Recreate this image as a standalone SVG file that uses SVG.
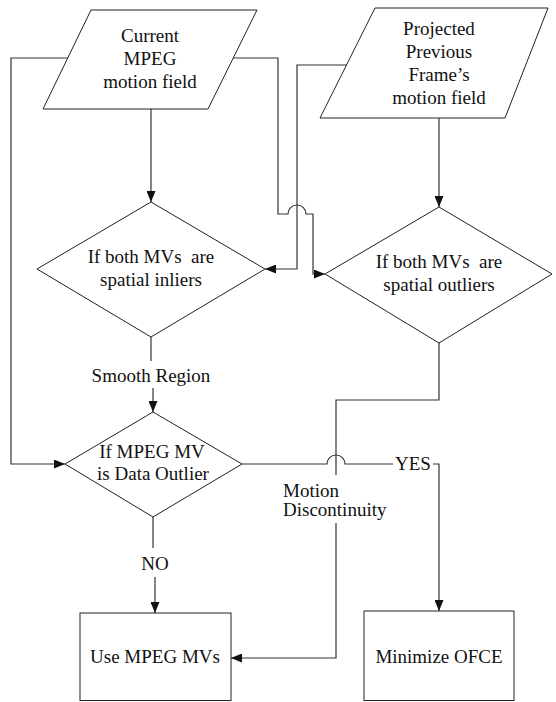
<svg xmlns="http://www.w3.org/2000/svg" width="556" height="702" viewBox="0 0 556 702">
<style>
.shape{fill:#fff;stroke:#222;stroke-width:1}
.conn{fill:none;stroke:#333;stroke-width:1.2}
text{font-family:"Liberation Serif","Times New Roman",serif;font-size:19px;fill:#111}
.c{text-anchor:middle}
</style>
<defs>
<marker id="arr" markerUnits="userSpaceOnUse" markerWidth="11" markerHeight="9" refX="11" refY="4.5" orient="auto">
<path d="M0,0 L11,4.5 L0,9 z" fill="#111"/>
</marker>
</defs>
<rect width="556" height="702" fill="#fff"/>
<g id="connectors">
<path class="conn" d="M68,58 H11 V464 H65" marker-end="url(#arr)"/>
<path class="conn" d="M233,58 H278 V214 H288 A9,9 0 0 1 306,214 H313 V274 H325" marker-end="url(#arr)"/>
<path class="conn" d="M347,65 H297 V269 H265" marker-end="url(#arr)"/>
<path class="conn" d="M151,109 V202" marker-end="url(#arr)"/>
<path class="conn" d="M439,118 V207" marker-end="url(#arr)"/>
<path class="conn" d="M151,337 V361"/>
<path class="conn" d="M153,388 V412" marker-end="url(#arr)"/>
<path class="conn" d="M153,517 V548"/>
<path class="conn" d="M155,577 V613" marker-end="url(#arr)"/>
<path class="conn" d="M242,464 H327 A9,9 0 0 1 345,464 H393"/>
<path class="conn" d="M433,464 H439 V611" marker-end="url(#arr)"/>
<path class="conn" d="M439,343 V400 H336 V475"/>
<path class="conn" d="M336,523 V658 H231" marker-end="url(#arr)"/>
<text class="c" x="151" y="382">Smooth Region</text>
<text class="c" x="155" y="570">NO</text>
<text x="395" y="470">YES</text>
<text x="283" y="497">Motion</text>
<text x="283" y="516">Discontinuity</text>
</g>
<g id="current-mpeg">
<polygon class="shape" points="91,10 257,10 208,109 43,109"/>
<text class="c" x="150" y="42">Current</text>
<text class="c" x="150" y="65">MPEG</text>
<text class="c" x="150" y="88">motion field</text>
</g>
<g id="projected-previous">
<polygon class="shape" points="375,8 548,8 505,118 320,118"/>
<text class="c" x="439" y="35">Projected</text>
<text class="c" x="439" y="58">Previous</text>
<text class="c" x="439" y="81">Frame’s</text>
<text class="c" x="439" y="104">motion field</text>
</g>
<g id="spatial-inliers">
<polygon class="shape" points="151,202 265,269 151,337 37,269"/>
<text class="c" x="151" y="263" xml:space="preserve">If both MVs  are</text>
<text class="c" x="151" y="286">spatial inliers</text>
</g>
<g id="spatial-outliers">
<polygon class="shape" points="439,207 552,274 439,343 325,274"/>
<text class="c" x="439" y="268" xml:space="preserve">If both MVs  are</text>
<text class="c" x="439" y="291">spatial outliers</text>
</g>
<g id="data-outlier">
<polygon class="shape" points="153,412 242,464 153,517 65,464"/>
<text class="c" x="152" y="458">If MPEG MV</text>
<text class="c" x="153" y="480">is Data Outlier</text>
</g>
<g id="use-mpeg">
<rect class="shape" x="80" y="613" width="151" height="87.5"/>
<text class="c" x="155" y="663">Use MPEG MVs</text>
</g>
<g id="minimize-ofce">
<rect class="shape" x="364" y="611" width="150" height="89.5"/>
<text class="c" x="439" y="663">Minimize OFCE</text>
</g>
</svg>
